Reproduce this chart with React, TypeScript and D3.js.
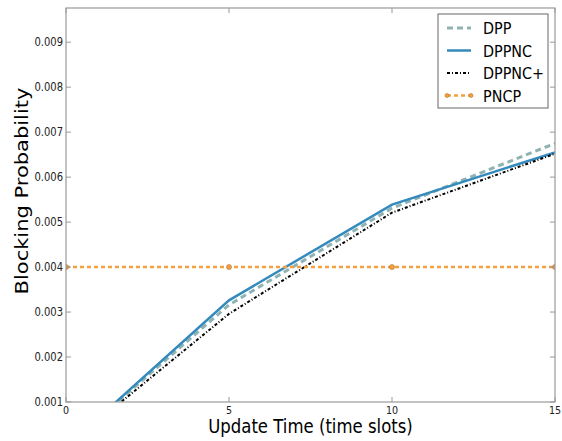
import React from "react";
import * as d3 from "d3";

const xs = [0, 5, 10, 15];
const dpp = [0, 0.00316, 0.00531, 0.00675];
const dppnc = [0, 0.00326, 0.00539, 0.00655];
const dppncPlus = [0, 0.00296, 0.00521, 0.00652];
const pncp = [0.004, 0.004, 0.004, 0.004];
const xTicks = [0, 5, 10, 15];
const yTicks = [0.001, 0.002, 0.003, 0.004, 0.005, 0.006, 0.007, 0.008, 0.009];
const seriesNames = ["DPP", "DPPNC", "DPPNC+", "PNCP"];

const W = 562, H = 441;
const L = 66, R = 555, T = 8, B = 402;
const font = "DejaVu Sans, sans-serif";
const SX = 0.87;

function T2(props: { x: number; y: number; size: number; anchor?: string; rotate?: number; children: any; fill?: string }) {
  const { x, y, size, anchor = "start", rotate = 0, children, fill = "#000" } = props;
  const tr = rotate
    ? `translate(${x},${y}) scale(${SX},1) rotate(${rotate})`
    : `translate(${x},${y}) scale(${SX},1)`;
  return (
    <text transform={tr} fontSize={size} fontFamily={font} textAnchor={anchor as any} fill={fill}>
      {children}
    </text>
  );
}

export default function App() {
  const x = d3.scaleLinear().domain([0, 15]).range([L, R]);
  const y = d3.scaleLinear().domain([0.001, 0.00976]).range([B, T]);
  const line = d3.line<number>().x((_, i) => x(xs[i])).y((v) => y(v));
  const series = [
    { name: seriesNames[0], data: dpp, color: "#8fb3b3", width: 3, dash: "6,4" },
    { name: seriesNames[1], data: dppnc, color: "#348abd", width: 2.5, dash: "" },
    { name: seriesNames[2], data: dppncPlus, color: "#000000", width: 2, dash: "3,2,1,2" },
    { name: seriesNames[3], data: pncp, color: "#f5a040", width: 2.5, dash: "4,3" },
  ];
  return (
    <svg width={W} height={H} style={{ position: "absolute", left: 0, top: 0, background: "#fff" }}>
      <defs>
        <clipPath id="clip">
          <rect x={L} y={T} width={R - L} height={B - T} />
        </clipPath>
      </defs>
      <g clipPath="url(#clip)">
        {series.map((s) => (
          <path key={s.name} d={line(s.data) || ""} fill="none" stroke={s.color} strokeWidth={s.width} strokeDasharray={s.dash} />
        ))}
        {pncp.map((v, i) => (
          <circle key={i} cx={x(xs[i])} cy={y(v)} r={2.5} fill="#f5a040" stroke="#b07030" strokeWidth={0.6} />
        ))}
      </g>
      <rect x={L} y={T} width={R - L} height={B - T} fill="none" stroke="#999" strokeWidth={1.2} />
      {xTicks.map((t) => (
        <g key={"x" + t}>
          <line x1={x(t)} x2={x(t)} y1={B} y2={B - 5} stroke="#999" />
          <line x1={x(t)} x2={x(t)} y1={T} y2={T + 5} stroke="#999" />
          <T2 x={x(t)} y={B + 11.5} size={11} anchor="middle" fill="#222">{t}</T2>
        </g>
      ))}
      {yTicks.map((t) => (
        <g key={"y" + t}>
          <line x1={L} x2={L + 5} y1={y(t)} y2={y(t)} stroke="#999" />
          <line x1={R} x2={R - 5} y1={y(t)} y2={y(t)} stroke="#999" />
          <T2 x={L - 3} y={y(t) + 4} size={11.5} anchor="end" fill="#222">{t.toFixed(3)}</T2>
        </g>
      ))}
      <T2 x={(L + R) / 2} y={433} size={19} anchor="middle">Update Time (time slots)</T2>
      <T2 x={28} y={191} size={21} anchor="middle" rotate={-90}>Blocking Probability</T2>
      <g>
        <rect x={438} y={14} width={110} height={94} fill="#fff" stroke="#666" strokeWidth={1} />
        {series.map((s, i) => {
          const ly = 28 + i * 22.5;
          return (
            <g key={"lg" + s.name}>
              <line x1={447} x2={471} y1={ly} y2={ly} stroke={s.color} strokeWidth={s.width} strokeDasharray={s.dash} />
              {s.name === "PNCP" && (
                <>
                  <circle cx={447} cy={ly} r={2} fill="#f5a040" stroke="#b07030" strokeWidth={0.6} />
                  <circle cx={471} cy={ly} r={2} fill="#f5a040" stroke="#b07030" strokeWidth={0.6} />
                </>
              )}
              <T2 x={483} y={ly + 6} size={16.5}>{s.name}</T2>
            </g>
          );
        })}
      </g>
    </svg>
  );
}
